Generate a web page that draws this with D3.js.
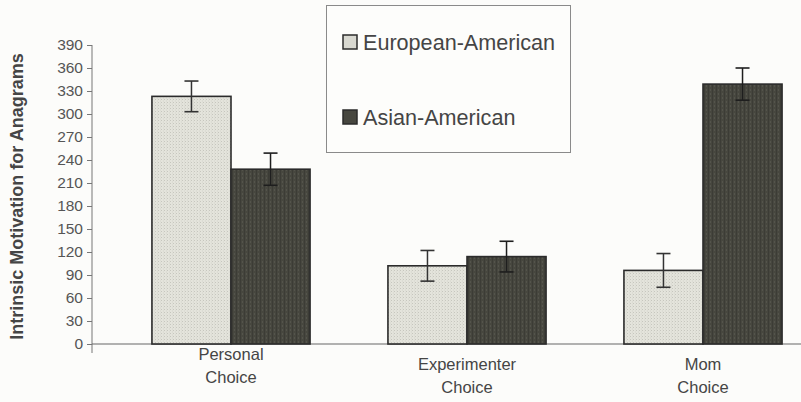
<!DOCTYPE html>
<html>
<head>
<meta charset="utf-8">
<script src="https://cdn.jsdelivr.net/npm/d3@7"></script>
<style>
  html, body { margin: 0; padding: 0; background: #fcfcfa; }
  svg { display: block; font-family: "Liberation Sans", Arial, Helvetica, sans-serif; }
</style>
</head>
<body>
<svg id="chart" width="801" height="402"></svg>
<script>
// Intrinsic motivation by choice condition and cultural group
const categories = ["Personal Choice", "Experimenter Choice", "Mom Choice"];
const groups = ["European-American", "Asian-American"];
const europeanValues = [323, 102, 96];
const asianValues = [228, 114, 339];
const europeanErrors = [20, 20, 22];
const asianErrors = [21, 20, 21];
const yTicks = [0, 30, 60, 90, 120, 150, 180, 210, 240, 270, 300, 330, 360, 390];

const rows = categories.map((c, i) => ({
  category: c,
  values: [
    { group: groups[0], value: europeanValues[i], err: europeanErrors[i] },
    { group: groups[1], value: asianValues[i], err: asianErrors[i] }
  ]
}));

const svg = d3.select("#chart");
const axisX = 92;
const ink = "#2b2b2b";
const textColor = "#454545";

// Textured fills for the two groups
const defs = svg.append("defs");
const light = defs.append("pattern").attr("id", "fillLight")
  .attr("width", 3).attr("height", 3).attr("patternUnits", "userSpaceOnUse");
light.append("rect").attr("width", 3).attr("height", 3).attr("fill", "#e4e4dc");
light.append("rect").attr("x", 0).attr("y", 0).attr("width", 1).attr("height", 1).attr("fill", "#c4c4bc");
light.append("rect").attr("x", 2).attr("y", 1.5).attr("width", 1).attr("height", 1).attr("fill", "#d2d2ca");
const dark = defs.append("pattern").attr("id", "fillDark")
  .attr("width", 4).attr("height", 4).attr("patternUnits", "userSpaceOnUse");
dark.append("rect").attr("width", 4).attr("height", 4).attr("fill", "#47473f");
dark.append("rect").attr("x", 0).attr("y", 0).attr("width", 1).attr("height", 4).attr("fill", "#3b3b35");
dark.append("rect").attr("x", 2).attr("y", 1).attr("width", 1).attr("height", 2).attr("fill", "#55554d");

const fills = d3.scaleOrdinal().domain(groups).range(["url(#fillLight)", "url(#fillDark)"]);
const swatchFills = d3.scaleOrdinal().domain(groups).range(["#d8d8d0", "#47473f"]);

const y = d3.scaleLinear().domain([0, 390]).range([344, 45]);
const x0 = d3.scaleBand().domain(categories).range([113, 821]).paddingInner(0.33).paddingOuter(0.165);
const x1 = d3.scaleBand().domain(groups).range([0, x0.bandwidth()]);

// Y axis
const yAxis = svg.append("g").attr("transform", `translate(${axisX},0)`)
  .call(d3.axisLeft(y).tickValues(yTicks).tickSize(5).tickPadding(4));
yAxis.select(".domain").remove();
yAxis.selectAll(".tick line").attr("stroke", "#777").attr("stroke-width", 1);
yAxis.selectAll(".tick text").attr("fill", "#555").style("font-size", "15.5px");
svg.append("line").attr("x1", axisX).attr("x2", axisX)
  .attr("y1", y(390)).attr("y2", y(0) + 9)
  .attr("stroke", "#777").attr("stroke-width", 1);

// Baseline
svg.append("line").attr("x1", axisX).attr("x2", 801)
  .attr("y1", y(0)).attr("y2", y(0))
  .attr("stroke", "#666").attr("stroke-width", 1.2);

svg.append("text")
  .attr("transform", `translate(23,${(y(0) + y(390)) / 2 + 2}) rotate(-90)`)
  .attr("text-anchor", "middle")
  .attr("fill", textColor)
  .style("font-size", "18px").style("font-weight", "bold")
  .text("Intrinsic Motivation for Anagrams");

// Bars
const groupG = svg.selectAll("g.cat").data(rows).join("g")
  .attr("class", "cat")
  .attr("transform", d => `translate(${x0(d.category)},0)`);

groupG.selectAll("rect").data(d => d.values).join("rect")
  .attr("x", d => x1(d.group))
  .attr("y", d => y(d.value))
  .attr("width", x1.bandwidth())
  .attr("height", d => y(0) - y(d.value))
  .attr("fill", d => fills(d.group))
  .attr("stroke", ink).attr("stroke-width", 1.6);

// Error bars
const eb = groupG.selectAll("g.err").data(d => d.values).join("g").attr("class", "err")
  .attr("transform", d => `translate(${x1(d.group) + x1.bandwidth() / 2},0)`);
const errColor = d => d.group === groups[1] ? "#1e1e1e" : "#333";
eb.append("line").attr("x1", 0).attr("x2", 0)
  .attr("y1", d => y(d.value + d.err)).attr("y2", d => y(d.value - d.err))
  .attr("stroke", errColor).attr("stroke-width", 1.5);
eb.selectAll("line.cap").data(d => [
    { v: d.value + d.err, group: d.group },
    { v: d.value - d.err, group: d.group }
  ]).join("line").attr("class", "cap")
  .attr("x1", -7).attr("x2", 7)
  .attr("y1", d => y(d.v)).attr("y2", d => y(d.v))
  .attr("stroke", errColor).attr("stroke-width", 1.6);

// Category labels (two lines each)
const labelTop = { "Personal Choice": 360, "Experimenter Choice": 370, "Mom Choice": 370 };
svg.selectAll("text.cat").data(categories).join("text")
  .attr("class", "cat")
  .attr("x", d => x0(d) + x0.bandwidth() / 2)
  .attr("y", d => labelTop[d])
  .attr("text-anchor", "middle")
  .attr("fill", textColor)
  .style("font-size", "16.5px")
  .each(function (d) {
    const words = d.split(" ");
    d3.select(this).selectAll("tspan").data(words).join("tspan")
      .attr("x", x0(d) + x0.bandwidth() / 2)
      .attr("dy", (w, i) => i === 0 ? 0 : 23)
      .text(w => w);
  });

// Legend
const legend = svg.append("g");
legend.append("rect").attr("x", 326.5).attr("y", 5.5).attr("width", 244).attr("height", 147)
  .attr("fill", "#fdfdfb").attr("stroke", "#8a8a8a").attr("stroke-width", 1);
const items = legend.selectAll("g.item").data(groups).join("g").attr("class", "item")
  .attr("transform", (d, i) => `translate(343,${42 + i * 75})`);
items.append("rect").attr("x", 0).attr("y", -7).attr("width", 14).attr("height", 14)
  .attr("fill", d => swatchFills(d)).attr("stroke", ink).attr("stroke-width", 1.5);
items.append("text").attr("x", 20).attr("y", 0).attr("dy", "0.35em")
  .attr("fill", textColor).style("font-size", "21.6px")
  .text(d => d);
</script>
</body>
</html>
